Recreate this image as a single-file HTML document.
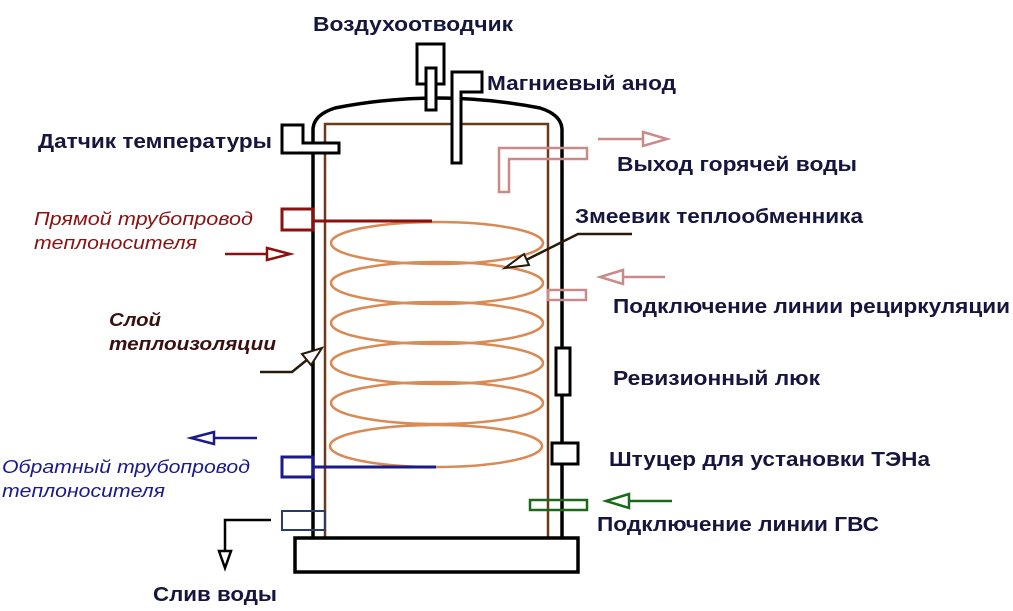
<!DOCTYPE html>
<html><head><meta charset="utf-8"><style>
html,body{margin:0;padding:0;background:#fff;}
svg{display:block;}
text{font-family:"Liberation Sans",sans-serif;}
.b{font-weight:bold;font-size:20px;fill:#15153d;}
.i{font-style:italic;font-size:18px;}
</style></head><body>
<svg width="1013" height="611" viewBox="0 0 1013 611" xmlns="http://www.w3.org/2000/svg">
<g fill="none" stroke-linejoin="miter">
<path d="M313,538 L313,130 Q313,115 335,108 Q437,88 540,108 Q562,115 562,130 L562,538" stroke="#000" stroke-width="3.5"/>
<rect x="325" y="124" width="223" height="414" stroke="#6b3a1a" stroke-width="2.5"/>
<rect x="295" y="538" width="283" height="34" stroke="#000" stroke-width="3.5"/>
<rect x="417" y="44" width="27" height="40" stroke="#000" stroke-width="3"/>
<rect x="426" y="68" width="10" height="42" stroke="#000" stroke-width="3" fill="#fff"/>
<path d="M452,72 H482 V92 H461 V163 H452 Z" stroke="#000" stroke-width="3" fill="#fff"/>
<path d="M282,125 H303 V143 H339 V153 H282 Z" stroke="#000" stroke-width="3" fill="#fff"/>
<path d="M499,148 H587 V159 H509 V192 H499 Z" stroke="#c98a8a" stroke-width="2.5"/>
<g stroke="#d98a55" stroke-width="2.5">
<ellipse cx="437" cy="243" rx="106" ry="21"/>
<ellipse cx="437" cy="283" rx="106" ry="21"/>
<ellipse cx="437" cy="323" rx="106" ry="21"/>
<ellipse cx="437" cy="363" rx="106" ry="21"/>
<ellipse cx="437" cy="403" rx="106" ry="21"/>
<ellipse cx="436" cy="446" rx="106" ry="21"/>
</g>
<rect x="282" y="209" width="31" height="21" stroke="#8b1010" stroke-width="3"/>
<line x1="313" y1="221" x2="432" y2="221" stroke="#8b1010" stroke-width="3"/>
<rect x="282" y="457" width="31" height="20" stroke="#1a1a8a" stroke-width="3"/>
<line x1="313" y1="467" x2="436" y2="467" stroke="#1a1a8a" stroke-width="3"/>
<rect x="282" y="511" width="43" height="19" stroke="#2a3a6a" stroke-width="2"/>
<path d="M271,520 H225 V552" stroke="#000" stroke-width="2.5"/>
<path d="M219,551 L231,551 L225,568 Z" stroke="#000" stroke-width="2.5"/>
<rect x="548" y="290" width="38" height="10" stroke="#c98a8a" stroke-width="2.5"/>
<rect x="556" y="348" width="14" height="47" stroke="#000" stroke-width="3" fill="#fff"/>
<rect x="552" y="443" width="26" height="21" stroke="#000" stroke-width="3" fill="#fff"/>
<rect x="530" y="500" width="57" height="10" stroke="#1a6a1a" stroke-width="2.5"/>
<line x1="598" y1="139" x2="644" y2="139" stroke="#c98a8a" stroke-width="2.5"/>
<path d="M643,132 L667,139 L643,146 Z" stroke="#c98a8a" stroke-width="2.5"/>
<line x1="665" y1="277" x2="622" y2="277" stroke="#c98a8a" stroke-width="2.5"/>
<path d="M623,270 L600,277 L623,284 Z" stroke="#c98a8a" stroke-width="2.5"/>
<line x1="672" y1="501" x2="628" y2="501" stroke="#1a6a1a" stroke-width="2.5"/>
<path d="M629,494 L606,501 L629,508 Z" stroke="#1a6a1a" stroke-width="2.5"/>
<line x1="225" y1="254" x2="268" y2="254" stroke="#8b1010" stroke-width="2.5"/>
<path d="M267,248 L290,254 L267,260 Z" stroke="#8b1010" stroke-width="2.5"/>
<line x1="257" y1="438" x2="213" y2="438" stroke="#1a1a8a" stroke-width="2.5"/>
<path d="M214,432 L191,438 L214,444 Z" stroke="#1a1a8a" stroke-width="2.5"/>
<path d="M632,234 H578 L522,262" stroke="#2a1a0a" stroke-width="2.5"/>
<path d="M524,254 L505,268 L529,265 Z" stroke="#2a1a0a" stroke-width="2" fill="#fff"/>
<path d="M260,372 H292 L308,359" stroke="#2a1a0a" stroke-width="2.5"/>
<path d="M302,354 L322,348 L311,365 Z" stroke="#2a1a0a" stroke-width="2" fill="#fff"/>
</g>
<g lengthAdjust="spacingAndGlyphs">
<text class="b" x="313" y="31" textLength="200" lengthAdjust="spacingAndGlyphs">Воздухоотводчик</text>
<text class="b" x="487" y="90" textLength="189" lengthAdjust="spacingAndGlyphs">Магниевый анод</text>
<text class="b" x="38" y="148" textLength="234" lengthAdjust="spacingAndGlyphs">Датчик температуры</text>
<text class="b" x="617" y="171" textLength="240" lengthAdjust="spacingAndGlyphs">Выход горячей воды</text>
<text class="b" x="575" y="223" textLength="288" lengthAdjust="spacingAndGlyphs">Змеевик теплообменника</text>
<text class="b" x="613" y="313" textLength="397" lengthAdjust="spacingAndGlyphs">Подключение линии рециркуляции</text>
<text class="b" x="613" y="385" textLength="207" lengthAdjust="spacingAndGlyphs">Ревизионный люк</text>
<text class="b" x="609" y="466" textLength="321" lengthAdjust="spacingAndGlyphs">Штуцер для установки ТЭНа</text>
<text class="b" x="597" y="531" textLength="282" lengthAdjust="spacingAndGlyphs">Подключение линии ГВС</text>
<text class="b" x="153" y="601" textLength="124" lengthAdjust="spacingAndGlyphs">Слив воды</text>
<text class="i" x="34" y="225" fill="#8b1010" textLength="219" lengthAdjust="spacingAndGlyphs">Прямой трубопровод</text>
<text class="i" x="34" y="249" fill="#8b1010" textLength="163" lengthAdjust="spacingAndGlyphs">теплоносителя</text>
<text class="i" x="109" y="326" fill="#3a1010" font-weight="bold" textLength="52" lengthAdjust="spacingAndGlyphs">Слой</text>
<text class="i" x="109" y="350" fill="#3a1010" font-weight="bold" textLength="167" lengthAdjust="spacingAndGlyphs">теплоизоляции</text>
<text class="i" x="2" y="473" fill="#1a1a8a" textLength="248" lengthAdjust="spacingAndGlyphs">Обратный трубопровод</text>
<text class="i" x="2" y="497" fill="#1a1a8a" textLength="163" lengthAdjust="spacingAndGlyphs">теплоносителя</text>
</g>
</svg>
</body></html>
